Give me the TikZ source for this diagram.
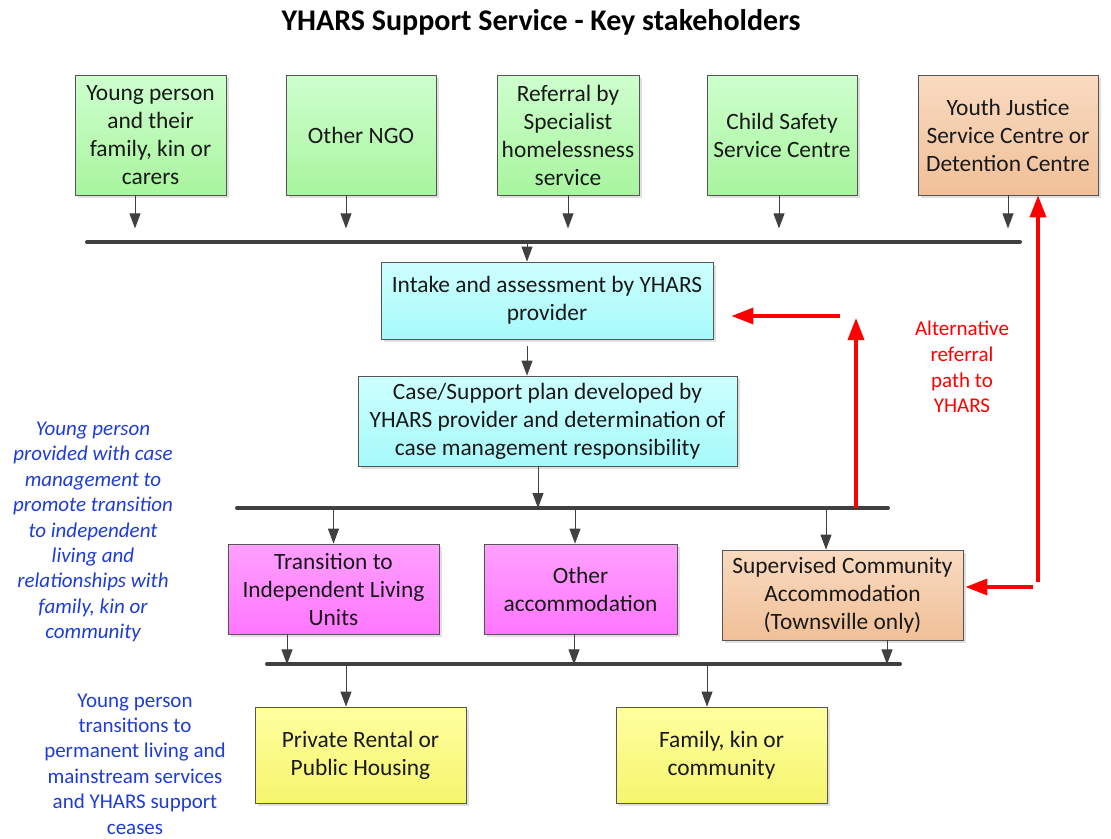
\documentclass[tikz,border=0pt]{standalone}
\usepackage{fontspec}
\setmainfont{Carlito}
\usetikzlibrary{arrows.meta,shadows}
\definecolor{boxline}{RGB}{85,85,85}
\definecolor{busgray}{RGB}{64,64,64}
\definecolor{notebl}{RGB}{30,60,215}
\begin{document}
\begin{tikzpicture}[x=1pt,y=-1pt,
  box/.style={draw=boxline,line width=.8pt,align=center,text=black!90,inner sep=2pt,
    font=\fontsize{23.4}{28}\selectfont,
    drop shadow={opacity=.25,shadow xshift=3pt,shadow yshift=-3pt}},
  greenbox/.style={box,top color={rgb,255:red,206;green,255;blue,206},bottom color={rgb,255:red,168;green,245;blue,158},minimum height=120pt},
  orangebox/.style={box,top color={rgb,255:red,249;green,218;blue,192},bottom color={rgb,255:red,240;green,192;blue,152}},
  cyanbox/.style={box,top color={rgb,255:red,206;green,255;blue,255},bottom color={rgb,255:red,166;green,250;blue,250}},
  pinkbox/.style={box,top color={rgb,255:red,255;green,160;blue,255},bottom color={rgb,255:red,255;green,118;blue,255},minimum height=90pt},
  yellowbox/.style={box,top color={rgb,255:red,255;green,255;blue,160},bottom color={rgb,255:red,245;green,245;blue,110},minimum height=96pt,minimum width=211pt},
  arr/.style={draw=busgray,line width=.9pt,-{Triangle[width=11pt,length=15pt]}},
  bus/.style={draw=busgray,line width=4pt,line cap=round},
  redarr/.style={draw=red,line width=3.5pt,-{Triangle[width=16pt,length=22pt]}},
  note/.style={align=center,text=notebl,inner sep=0pt,font=\fontsize{21}{25.4}\selectfont}]
  \useasboundingbox (0,0) rectangle (1111,838);
  \node[font=\fontsize{30}{34}\selectfont\bfseries] (title) at (541,22) {YHARS Support Service - Key stakeholders};

  \node[greenbox,minimum width=151pt] (young) at (150.5,135) {Young person\\and their\\family, kin or\\carers};
  \node[greenbox,minimum width=150pt] (ngo) at (361,135) {Other NGO};
  \node[greenbox,minimum width=142pt] (referral) at (568,135) {Referral by\\Specialist\\homelessness\\service};
  \node[greenbox,minimum width=150pt] (child) at (782,135) {Child Safety\\Service Centre};
  \node[orangebox,minimum width=180pt,minimum height=120pt] (justice) at (1008,135) {Youth Justice\\Service Centre or\\Detention Centre};

  \node[cyanbox,minimum width=332pt,minimum height=77pt] (intake) at (547,300.5) {Intake and assessment by YHARS\\provider};
  \node[cyanbox,minimum width=379pt,minimum height=90pt] (caseplan) at (547.5,421) {Case/Support plan developed by\\YHARS provider and determination of\\case management responsibility};

  \node[pinkbox,minimum width=211pt] (til) at (333.5,589) {Transition to\\Independent Living\\Units};
  \node[pinkbox,minimum width=193pt] (otheracc) at (580.5,589) {Other\\accommodation};
  \node[orangebox,minimum width=241pt,minimum height=90pt] (sca) at (842.5,595) {Supervised Community\\Accommodation\\(Townsville only)};

  \node[yellowbox] (private) at (360.5,755) {Private Rental or\\Public Housing};
  \node[yellowbox] (family) at (721.5,755) {Family, kin or\\community};

  \node[note,font=\fontsize{21}{25.4}\selectfont\itshape] (casenote) at (93,532) {Young person\\provided with case\\management to\\promote transition\\to independent\\living and\\relationships with\\family, kin or\\community};
  \node[note] (endnote) at (135,764) {Young person\\transitions to\\permanent living and\\mainstream services\\and YHARS support\\ceases};
  \node[align=center,text=red,font=\fontsize{21}{25.7}\selectfont] (altnote) at (962,367) {Alternative\\referral\\path to\\YHARS};

  \coordinate (b1w) at (87,242);  \coordinate (b1e) at (1020,242);
  \coordinate (b2w) at (237,508); \coordinate (b2e) at (888,508);
  \coordinate (b3w) at (267,664); \coordinate (b3e) at (900,664);
  \draw[bus] (b1w)--(b1e);
  \draw[bus] (b2w)--(b2e);
  \draw[bus] (b3w)--(b3e);

  \foreach \n/\dx in {young/-15.5,ngo/-15,referral/0,child/-3,justice/0}
    \draw[arr] ([xshift=\dx pt]\n.south) -- ++(0,33);
  \draw[arr] ([xshift=-20pt]intake.north |- b1w) -- ([xshift=-20pt]intake.north);
  \draw[arr] ([xshift=-20pt,yshift=-7pt]intake.south) -- ([xshift=-20.5pt]caseplan.north);
  \draw[arr] ([xshift=-9.5pt]caseplan.south) -- ([xshift=-9.5pt]caseplan.south |- b2w);
  \foreach \n/\dx in {til/0,otheracc/-5.5,sca/-16.5}
    \draw[arr] ([xshift=\dx pt]\n.north |- b2w) -- ([xshift=\dx pt]\n.north);
  \foreach \n/\dx/\l in {til/-46.5/30,otheracc/-6.5/30,sca/44.5/24}
    \draw[arr] ([xshift=\dx pt]\n.south) -- ++(0,\l);
  \foreach \n in {private,family}
    \draw[arr] ([xshift=-14.5pt]\n.north |- b3w) -- ([xshift=-14.5pt]\n.north);

  \coordinate (altup) at (856,508);
  \coordinate (altin) at (840,316);
  \coordinate (altj) at (1038,582);
  \coordinate (alts) at (1033,587);
  \draw[redarr] (altup) -- ++(0,-190);
  \draw[redarr] (altin) -- ([xshift=18pt]altin -| intake.east);
  \draw[redarr] (altj) -- (altj |- justice.south);
  \draw[redarr] (alts) -- ([xshift=2pt]alts -| sca.east);
\end{tikzpicture}
\end{document}
